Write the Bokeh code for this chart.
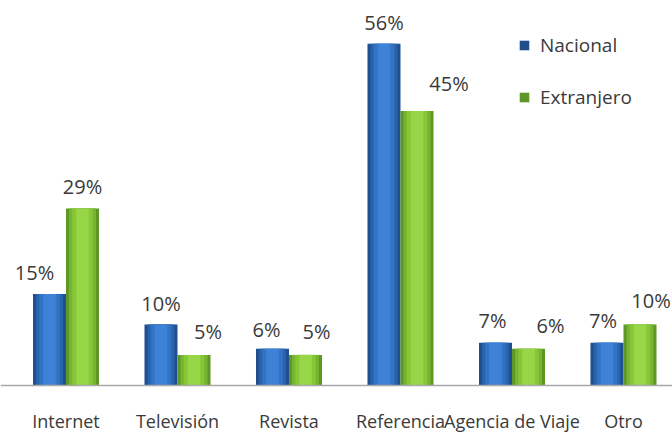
from bokeh.plotting import figure
from bokeh.models import Range1d, Legend, LegendItem, ColumnDataSource, Span
from bokeh.transform import dodge
from bokeh.embed import file_html
from bokeh.resources import INLINE
from bokeh.core.properties import value

# ---- data ----
categories = ["Internet", "Televisión", "Revista", "Referencia", "Agencia de Viaje", "Otro"]
nacional = [15, 10, 6, 56, 7, 7]
extranjero = [29, 5, 5, 45, 6, 10]
series_names = ["Nacional", "Extranjero"]

# ---- label nudges (screen px, layout only) ----
nac_dx = [-15, 0, -6, 0, -3, -4]
ext_dx = [0, 14, 11, 32, 22, 11]
nac_dy = [-21, -21, -19, -21, -22, -22]
ext_dy = [-22, -23, -23, -27, -23, -24]

FONT = "Open Sans"
TXT = "#3a3a3a"

xs = list(range(len(categories)))
src = ColumnDataSource(dict(
    x=xs,
    cat=categories,
    nac=nacional,
    ext=extranjero,
    nac_lbl=[f"{v}%" for v in nacional],
    ext_lbl=[f"{v}%" for v in extranjero],
    nac_dx=nac_dx, ext_dx=ext_dx, nac_dy=nac_dy, ext_dy=ext_dy,
))

p = figure(width=672, height=432, output_backend="svg", toolbar_location=None,
           x_range=Range1d(-0.5874, 5.4395), y_range=Range1d(-7.72, 63.1),
           min_border_left=0, min_border_right=0, min_border_top=0, min_border_bottom=0)
p.outline_line_color = None
p.grid.visible = False
p.xaxis.visible = False
p.yaxis.visible = False
p.background_fill_color = "white"
p.border_fill_color = "white"

off = 0.148
bw = 0.296
blue_layers = ["#1f4f8f", "#2a63ad", "#3373c4", "#3d82d6"]
green_layers = ["#5f9726", "#76b52f", "#86c738", "#97d647"]
fracs = [1.0, 0.82, 0.62, 0.38]

main_r = []
for col, layers, d in (("nac", blue_layers, -off), ("ext", green_layers, off)):
    first = None
    for c, f in zip(layers, fracs):
        r = p.vbar(x=dodge("x", d), top=col, width=bw * f, bottom=0, source=src,
                   fill_color=c, line_color=None)
        if first is None:
            first = r
    main_r.append(first)

# baseline
p.add_layout(Span(location=0, dimension="width", line_color="#a8a8a8", line_width=1.5))

# value labels
p.text(x=dodge("x", -off), y="nac", text="nac_lbl", source=src, x_offset="nac_dx", y_offset="nac_dy",
       text_align="center", text_baseline="middle", text_font=value(FONT),
       text_font_size="20px", text_color=TXT)
p.text(x=dodge("x", off), y="ext", text="ext_lbl", source=src, x_offset="ext_dx", y_offset="ext_dy",
       text_align="center", text_baseline="middle", text_font=value(FONT),
       text_font_size="20px", text_color=TXT)

# category labels
p.text(x="x", y=0, text="cat", source=src, y_offset=36,
       text_align="center", text_baseline="middle", text_font=value(FONT),
       text_font_size="18px", text_color=TXT)

legend = Legend(items=[LegendItem(label=series_names[0], renderers=[main_r[0]]),
                       LegendItem(label=series_names[1], renderers=[main_r[1]])],
                location=(518, 322), orientation="vertical",
                glyph_width=12, glyph_height=12, label_height=20, spacing=26,
                label_standoff=10, padding=0, margin=0,
                border_line_color=None, background_fill_alpha=0,
                label_text_font=FONT, label_text_font_size="19px", label_text_color=TXT)
p.add_layout(legend, "center")

open("out.html", "w").write(file_html(p, INLINE))
